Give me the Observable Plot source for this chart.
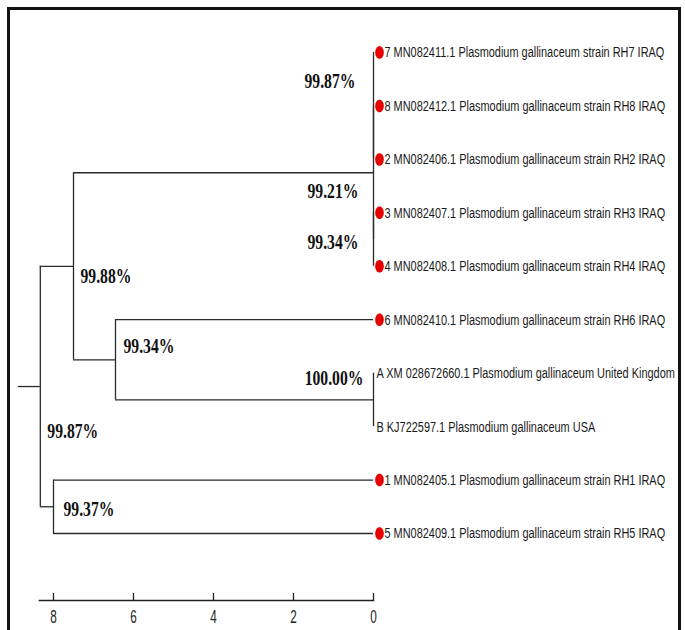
<!DOCTYPE html>
<html><head><meta charset="utf-8">
<script src="https://cdn.jsdelivr.net/npm/d3@7"></script>
<script src="https://cdn.jsdelivr.net/npm/@observablehq/plot@0.6"></script>
<style>
body{margin:0;background:#fff;}
#wrap{position:relative;width:685px;height:630px;overflow:hidden;background:#fff;}
#border{position:absolute;left:7px;top:7px;width:674px;height:700px;border:3px solid #111;box-sizing:border-box;}
#chart{position:absolute;left:0;top:0;}
</style></head><body>
<div id="wrap"><div id="border"></div><div id="chart"></div></div>
<script>
// ---- data ----
const leafNames = [
  "7 MN082411.1 Plasmodium gallinaceum strain RH7 IRAQ",
  "8 MN082412.1 Plasmodium gallinaceum strain RH8 IRAQ",
  "2 MN082406.1 Plasmodium gallinaceum strain RH2 IRAQ",
  "3 MN082407.1 Plasmodium gallinaceum strain RH3 IRAQ",
  "4 MN082408.1 Plasmodium gallinaceum strain RH4 IRAQ",
  "6 MN082410.1 Plasmodium gallinaceum strain RH6 IRAQ",
  "A XM 028672660.1 Plasmodium gallinaceum United Kingdom",
  "B KJ722597.1 Plasmodium gallinaceum USA",
  "1 MN082405.1 Plasmodium gallinaceum strain RH1 IRAQ",
  "5 MN082409.1 Plasmodium gallinaceum strain RH5 IRAQ"
];
const leafMarked = [true, true, true, true, true, true, false, false, true, true];
// internal nodes: children (leaf indices or node ids)
const nodeChildren = {
  root: ["nUpper", "n15"],
  nUpper: ["nTop", "n6AB"],
  nTop: ["n782", "n34"],
  n782: [0, 1, 2],
  n34: [3, 4],
  n6AB: [5, "nAB"],
  nAB: [6, 7],
  n15: [8, 9]
};
// node heights (distance units)
const nodeHeight = {root: 8.33, nUpper: 7.5, nTop: 0, n782: 0, n34: 0, n6AB: 6.45, nAB: 0, n15: 8.0};
const rootStubHeight = 8.88;
const supportNodes = ["n782", "nTop", "n34", "nUpper", "n6AB", "nAB", "root", "n15"];
const supportLabels = ["99.87%", "99.21%", "99.34%", "99.88%", "99.34%", "100.00%", "99.87%", "99.37%"];
const scaleTicks = [8, 6, 4, 2, 0];

// ---- layout from tree ----
const nodeY = {};
function yOf(id) {
  if (typeof id === "number") return id;
  if (nodeY[id] != null) return nodeY[id];
  const ch = nodeChildren[id];
  return (nodeY[id] = (yOf(ch[0]) + yOf(ch[ch.length - 1])) / 2);
}
function hOf(id) { return typeof id === "number" ? 0 : nodeHeight[id]; }
const hSegs = [{x1: rootStubHeight, x2: nodeHeight.root, y: yOf("root")}];
const vSegs = [];
for (const [id, ch] of Object.entries(nodeChildren)) {
  const h = nodeHeight[id];
  vSegs.push({x: h, y1: yOf(ch[0]), y2: yOf(ch[ch.length - 1])});
  for (const c of ch) if (hOf(c) !== h) hSegs.push({x1: h, x2: hOf(c), y: yOf(c)});
}
const leaves = leafNames.map((name, i) => ({name, y: i, h: 0, marked: leafMarked[i]}));
const support = supportNodes.map((n, i) => ({label: supportLabels[i], x: hOf(n), y: yOf(n)}));

// label placement offsets (px) relative to node
const offs = [
  {dx: -18, dy: -25, a: "end"},
  {dx: -15, dy: 19, a: "end"},
  {dx: -15, dy: 3, a: "end"},
  {dx: 7, dy: 10, a: "start"},
  {dx: 8, dy: -13, a: "start"},
  {dx: -10, dy: -21, a: "end"},
  {dx: 7, dy: 45, a: "start"},
  {dx: 10, dy: 3, a: "start"}
];

const octo = {
  draw(ctx, size) {
    const r = Math.sqrt(size / Math.PI), n = 14;
    for (let i = 0; i < n; i++) {
      const a = (2 * Math.PI * i) / n;
      const px = 0.68 * r * Math.cos(a), py = r * Math.sin(a);
      i ? ctx.lineTo(px, py) : ctx.moveTo(px, py);
    }
    ctx.closePath();
  }
};

const treeStroke = "#2a2a2a";
const leafFont = "Liberation Sans, Arial, sans-serif";
const chart = Plot.plot({
  width: 685, height: 630,
  marginTop: 10, marginBottom: 30, marginLeft: 39, marginRight: 312,
  x: {domain: [8, 0], range: [53, 373], axis: null},
  y: {domain: [0, 9], range: [52, 533], axis: null},
  style: {background: "transparent", overflow: "visible"},
  marks: [
    Plot.ruleY(hSegs, {x1: "x1", x2: "x2", y: "y", stroke: treeStroke, strokeWidth: 1.3}),
    Plot.ruleX(vSegs, {x: "x", y1: "y1", y2: "y2", stroke: treeStroke, strokeWidth: 1.3}),
    Plot.dot(leaves.filter(d => d.marked), {x: "h", y: "y", r: 6.4, dx: 6, symbol: octo, fill: "#e60000", stroke: "none"}),
    Plot.text(leaves.filter(d => d.marked), {x: "h", y: "y", text: "name", dx: 11, textAnchor: "start", fontSize: 15.5, fontFamily: leafFont, fill: "#1a1a1a"}),
    Plot.text(leaves.filter(d => !d.marked), {x: "h", y: "y", text: "name", dx: 3, textAnchor: "start", fontSize: 15.5, fontFamily: leafFont, fill: "#1a1a1a"}),
    ...support.map((d, i) => Plot.text([d], {x: "x", y: "y", text: "label", dx: offs[i].dx, dy: offs[i].dy, textAnchor: offs[i].a, fontSize: 20.5, fontWeight: "bold", fontFamily: "Liberation Serif, Times New Roman, serif", fill: "#111"})),
    Plot.frame({anchor: "bottom", stroke: "#222", strokeWidth: 1.6}),
    Plot.ruleX(scaleTicks, {insetTop: 583, stroke: "#222", strokeWidth: 1.3}),
    Plot.axisX({ticks: scaleTicks, tickSize: 0, tickPadding: 9, fontSize: 19, fontFamily: leafFont, tickFormat: d => String(d), fill: "#222"})
  ]
});
document.getElementById("chart").appendChild(chart);

// horizontally condense texts (the reference is a horizontally squeezed image)
function squeeze(nodes, k) {
  if (!isFinite(k) || !(k > 0)) return;
  nodes.forEach(t => {
    const tr = t.getAttribute("transform");
    if (tr) {
      t.setAttribute("transform", `${tr} scale(${k.toFixed(4)},1)`);
    } else {
      const x = +t.getAttribute("x") || 0;
      t.setAttribute("transform", `translate(${x},0) scale(${k.toFixed(4)},1) translate(${-x},0)`);
    }
  });
}
const allTexts = [...chart.querySelectorAll("text")];
const leafSet = new Set(leafNames), supSet = new Set(supportLabels), tickSet = new Set(scaleTicks.map(String));
const leafTexts = allTexts.filter(t => leafSet.has(t.textContent));
const supTexts = allTexts.filter(t => supSet.has(t.textContent));
const tickTexts = allTexts.filter(t => tickSet.has(t.textContent));
const ref = leafTexts.find(t => t.textContent === leafNames[0]);
const refLen = ref ? ref.getComputedTextLength() : 0;
const sref = supTexts.find(t => t.textContent === "99.87%");
const srefLen = sref ? sref.getComputedTextLength() : 0;
if (refLen) squeeze(leafTexts, 280 / refLen);
if (srefLen) squeeze(supTexts, 51 / srefLen);
squeeze(tickTexts, 0.62);
</script>
</body></html>
